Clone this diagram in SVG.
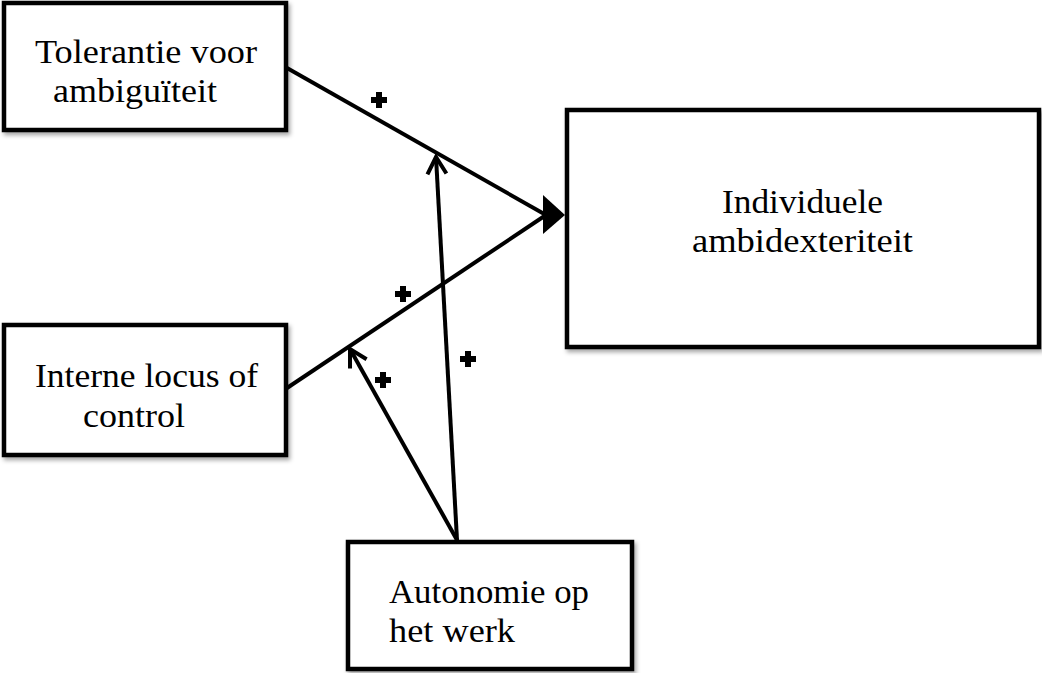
<svg xmlns="http://www.w3.org/2000/svg" width="1042" height="673" viewBox="0 0 1042 673">
  <defs>
    <filter id="shadow" x="-5%" y="-5%" width="115%" height="120%">
      <feDropShadow dx="2" dy="3" stdDeviation="2" flood-color="#000" flood-opacity="0.35"/>
    </filter>
    <marker id="open" viewBox="0 0 24 24" refX="21" refY="12" markerWidth="24" markerHeight="24" markerUnits="userSpaceOnUse" orient="auto">
      <path d="M4,2.5 L21,12 L4,21.5" fill="none" stroke="#000" stroke-width="4" stroke-linecap="butt" stroke-linejoin="miter"/>
    </marker>
  </defs>
  <style>
    .box { fill: #fff; stroke: #000; stroke-width: 4.5; filter: url(#shadow); }
    .lbl { font-family: "Liberation Serif", "DejaVu Serif", serif; font-size: 33px; fill: #000; }
    .conn { stroke: #000; stroke-width: 4; fill: none; }
    .plus { fill: #000; }
  </style>

  <g id="connectors">
    <line class="conn" x1="287" y1="68" x2="546" y2="215"/>
    <line class="conn" x1="287" y1="388" x2="546" y2="215"/>
    <polygon points="543,195 565,215 543,234" fill="#000"/>
    <line class="conn" x1="457" y1="540" x2="436" y2="157" marker-end="url(#open)"/>
    <line class="conn" x1="457" y1="540" x2="350" y2="349" marker-end="url(#open)"/>
  </g>

  <g id="plus-labels">
    <path class="plus" d="M376,92 h6 v5 h5 v6 h-5 v5 h-6 v-5 h-5 v-6 h5 z"/>
    <path class="plus" d="M400,286 h6 v5 h5 v6 h-5 v5 h-6 v-5 h-5 v-6 h5 z"/>
    <path class="plus" d="M380,372 h6 v5 h5 v6 h-5 v5 h-6 v-5 h-5 v-6 h5 z"/>
    <path class="plus" d="M465,351 h6 v5 h5 v6 h-5 v5 h-6 v-5 h-5 v-6 h5 z"/>
  </g>

  <g id="node-tolerantie">
    <rect class="box" x="4" y="3" width="282" height="127"/>
    <text class="lbl" x="35" y="63" textLength="222" lengthAdjust="spacingAndGlyphs">Tolerantie voor</text>
    <text class="lbl" x="53" y="102" textLength="164" lengthAdjust="spacingAndGlyphs">ambiguïteit</text>
  </g>

  <g id="node-locus">
    <rect class="box" x="4" y="325" width="282" height="130"/>
    <text class="lbl" x="35" y="387" textLength="223" lengthAdjust="spacingAndGlyphs">Interne locus of</text>
    <text class="lbl" x="83" y="427" textLength="102" lengthAdjust="spacingAndGlyphs">control</text>
  </g>

  <g id="node-autonomie">
    <rect class="box" x="348" y="542" width="284" height="127"/>
    <text class="lbl" x="389" y="603" textLength="200" lengthAdjust="spacingAndGlyphs">Autonomie op</text>
    <text class="lbl" x="389" y="642" textLength="126" lengthAdjust="spacingAndGlyphs">het werk</text>
  </g>

  <g id="node-ambidexteriteit">
    <rect class="box" x="567" y="110" width="472" height="237"/>
    <text class="lbl" x="722" y="213" textLength="161" lengthAdjust="spacingAndGlyphs">Individuele</text>
    <text class="lbl" x="692" y="252" textLength="221" lengthAdjust="spacingAndGlyphs">ambidexteriteit</text>
  </g>
</svg>
